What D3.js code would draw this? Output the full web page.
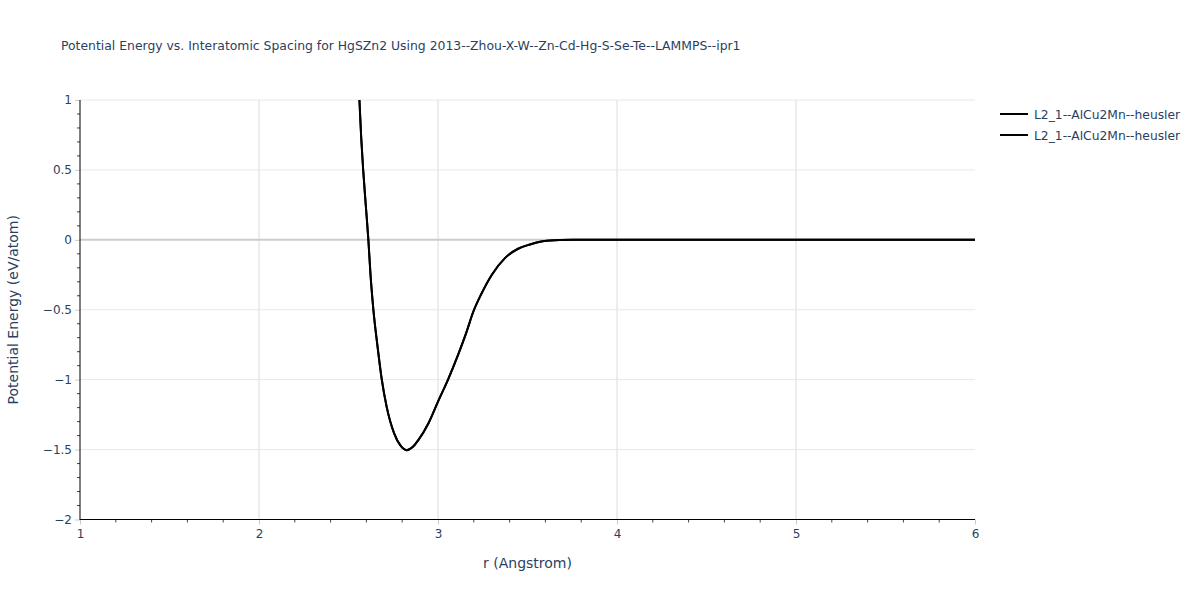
<!DOCTYPE html>
<html><head><meta charset="utf-8">
<script src="https://cdn.jsdelivr.net/npm/d3@7"></script>
<style>body{margin:0;background:#fff;font-family:"DejaVu Sans",verdana,arial,sans-serif;}</style>
</head><body><svg id="c" width="1200" height="600"></svg>
<script>
const title = "Potential Energy vs. Interatomic Spacing for HgSZn2 Using 2013--Zhou-X-W--Zn-Cd-Hg-S-Se-Te--LAMMPS--ipr1";
const seriesNames = ["L2_1--AlCu2Mn--heusler", "L2_1--AlCu2Mn--heusler"];
const rValues = [2.561, 2.571, 2.582, 2.597, 2.611, 2.623, 2.639, 2.662, 2.686, 2.713, 2.755, 2.79, 2.825, 2.86, 2.89, 2.946, 3.0, 3.056, 3.112, 3.159, 3.196, 3.244, 3.3, 3.374, 3.45, 3.514, 3.57, 3.626, 3.68, 3.75, 4.0, 4.5, 5.0, 5.5, 6.0];
const energyValues = [1.0, 0.73, 0.5, 0.24, 0.0, -0.25, -0.5, -0.76, -1.0, -1.193, -1.384, -1.47, -1.504, -1.48, -1.432, -1.313, -1.157, -1.0, -0.823, -0.66, -0.518, -0.382, -0.251, -0.131, -0.062, -0.033, -0.014, -0.005, -0.001, 0, 0, 0, 0, 0, 0];
const xTicks = [1, 2, 3, 4, 5, 6];
const yTicks = [-2, -1.5, -1, -0.5, 0, 0.5, 1];

const svg = d3.select("#c");
const L = 80, R = 975, T = 100, B = 519.5;
const x = d3.scaleLinear().domain([1, 6]).range([L, R]);
const y = d3.scaleLinear().domain([-2, 1]).range([B, T]);
const txt = "#2a3f5f";
const font = '"DejaVu Sans",verdana,arial,sans-serif';
const fmt = d => (d < 0 ? "\u2212" : "") + Math.abs(d);

// grid
svg.append("g").selectAll("line").data(xTicks.filter(d => d > 1 && d < 6)).join("line")
  .attr("x1", d => x(d)).attr("x2", d => x(d)).attr("y1", T).attr("y2", B)
  .attr("stroke", "#dcdcdc").attr("stroke-width", 1);
svg.append("g").selectAll("line").data(yTicks.filter(d => d > -2 && d !== 0)).join("line")
  .attr("x1", L).attr("x2", R).attr("y1", d => y(d)).attr("y2", d => y(d))
  .attr("stroke", "#e8e8e8").attr("stroke-width", 1);
svg.append("line").attr("x1", L).attr("x2", R).attr("y1", y(0)).attr("y2", y(0))
  .attr("stroke", "#cccccc").attr("stroke-width", 2);

// axes
const xAxis = svg.append("g").attr("transform", `translate(0,${B})`)
  .call(d3.axisBottom(x).tickValues(xTicks).tickFormat(fmt).tickSize(5).tickPadding(5));
xAxis.select(".domain").remove();
xAxis.selectAll(".tick line").attr("stroke", "#cccccc");
xAxis.selectAll(".tick text").attr("fill", txt).style("font-size", "12px").style("font-family", font);
const xMinor = d3.range(1.2, 6, 0.2).filter(v => Math.abs(v - Math.round(v)) > 1e-6);
svg.append("g").selectAll("line").data(xMinor).join("line")
  .attr("x1", d => x(d)).attr("x2", d => x(d)).attr("y1", B).attr("y2", B + 3)
  .attr("stroke", "#444").attr("stroke-width", 1);

const yAxis = svg.append("g").attr("transform", `translate(${L},0)`)
  .call(d3.axisLeft(y).tickValues(yTicks).tickFormat(fmt).tickSize(5).tickPadding(3));
yAxis.select(".domain").remove();
yAxis.selectAll(".tick line").attr("stroke", "#cccccc");
yAxis.selectAll(".tick text").attr("fill", txt).style("font-size", "12px").style("font-family", font);
const yMinor = d3.range(-1.9, 1, 0.1).filter(v => Math.abs(v * 2 - Math.round(v * 2)) > 1e-6);
svg.append("g").selectAll("line").data(yMinor).join("line")
  .attr("x1", L - 3).attr("x2", L).attr("y1", d => y(d)).attr("y2", d => y(d))
  .attr("stroke", "#444").attr("stroke-width", 1);

svg.append("line").attr("x1", L).attr("x2", L).attr("y1", T).attr("y2", B + 0.5).attr("stroke", "#000").attr("stroke-width", 1);
svg.append("line").attr("x1", L).attr("x2", R).attr("y1", B).attr("y2", B).attr("stroke", "#000").attr("stroke-width", 1);

// clip & line
svg.append("clipPath").attr("id", "clip").append("rect").attr("x", L).attr("y", T).attr("width", R - L).attr("height", B - T);
const data = rValues.map((r, i) => ({ r, e: energyValues[i] }));
const line = d3.line().x(d => x(d.r)).y(d => y(d.e)).curve(d3.curveMonotoneX);
seriesNames.forEach(() => {
  svg.append("path").datum(data).attr("clip-path", "url(#clip)")
    .attr("d", line).attr("fill", "none").attr("stroke", "#000").attr("stroke-width", 2);
});

// title
svg.append("text").attr("x", 61).attr("y", 50).text(title)
  .attr("fill", txt).style("font-size", "12.4px").style("font-family", font);

// axis titles
svg.append("text").attr("x", (L + R) / 2).attr("y", 568).attr("text-anchor", "middle")
  .text("r (Angstrom)").attr("fill", txt).style("font-size", "14px").style("font-family", font);
svg.append("text").attr("transform", `translate(18,${(T + B) / 2}) rotate(-90)`).attr("text-anchor", "middle")
  .text("Potential Energy (eV/atom)").attr("fill", txt).style("font-size", "14px").style("font-family", font);

// legend
seriesNames.forEach((n, i) => {
  const ly = 114 + i * 21;
  svg.append("line").attr("x1", 1000).attr("x2", 1028).attr("y1", ly).attr("y2", ly)
    .attr("stroke", "#000").attr("stroke-width", 2);
  svg.append("text").attr("x", 1034).attr("y", ly + 4.5).text(n)
    .attr("fill", txt).style("font-size", "12.3px").style("font-family", font);
});
</script></body></html>
